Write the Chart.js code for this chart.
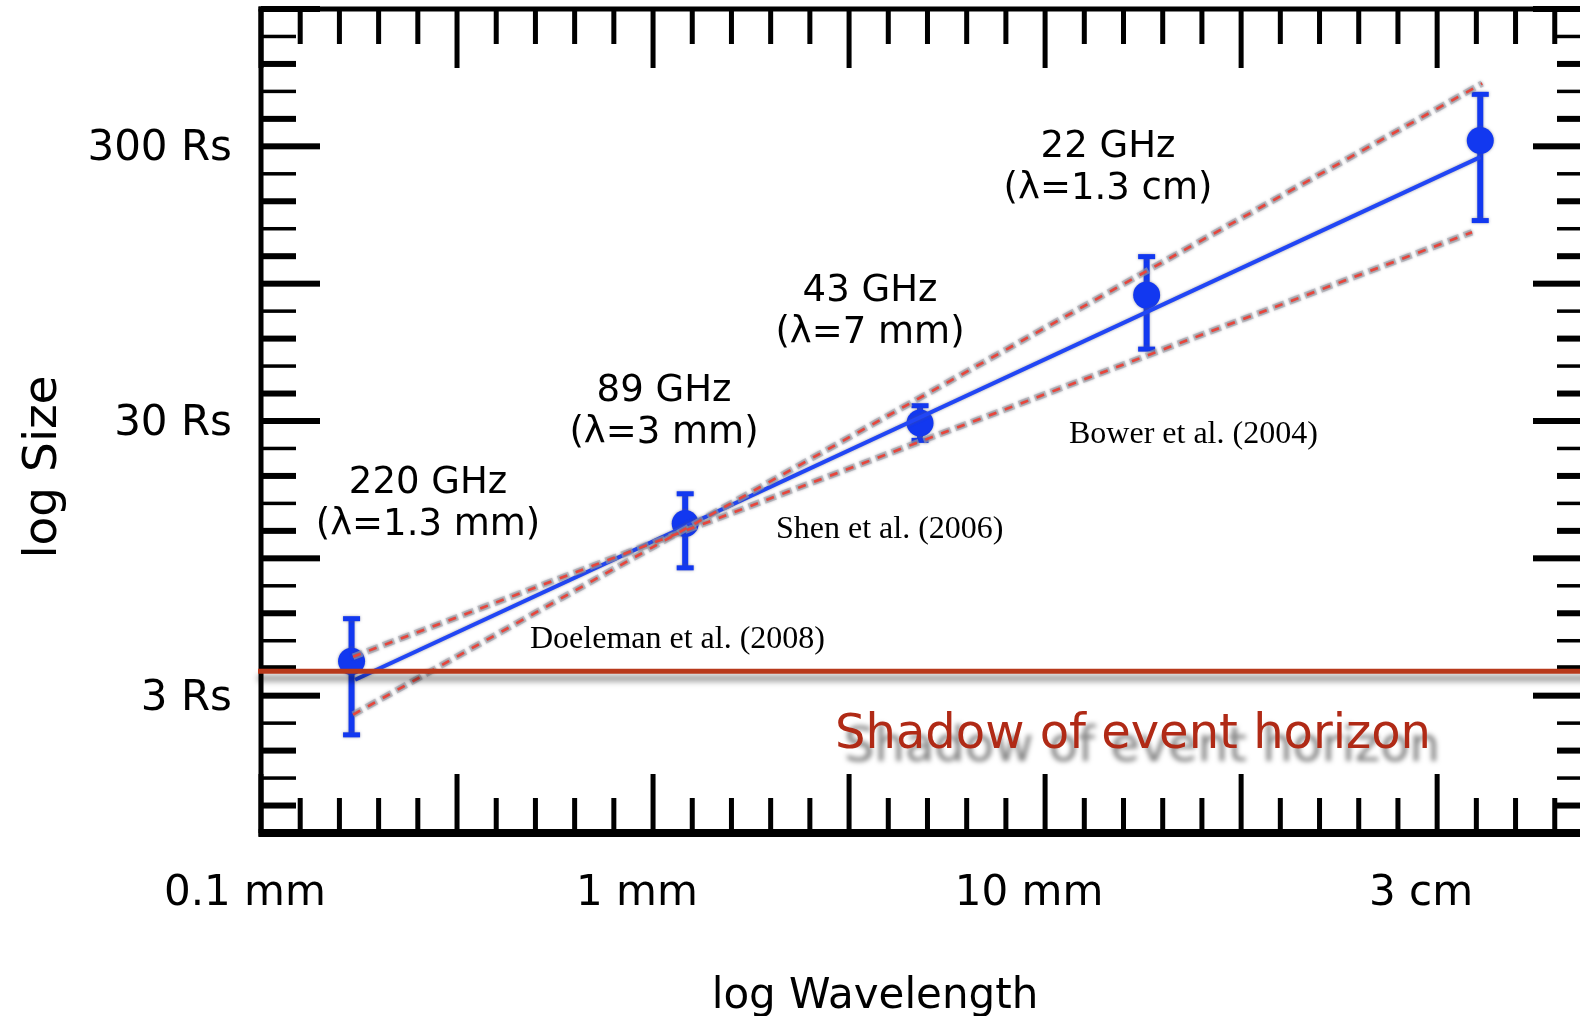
<!DOCTYPE html>
<html>
<head>
<meta charset="utf-8">
<title>log Size vs log Wavelength</title>
<script src="https://cdn.jsdelivr.net/npm/chart.js@4.4.1/dist/chart.umd.min.js"></script>
<style>
    html, body { margin: 0; padding: 0; background: #fff; overflow: hidden; }
    canvas { display: block; }
</style>
</head>
<body>
<canvas id="sizeChart" width="1600" height="1016"></canvas>
<script>
// Bandas observadas y referencias
const bandNames = ['220 GHz', '89 GHz', '43 GHz', '22 GHz'];
const bandLambda = ['(λ=1.3 mm)', '(λ=3 mm)', '(λ=7 mm)', '(λ=1.3 cm)'];
const references = ['Doeleman et al. (2008)', 'Shen et al. (2006)', 'Bower et al. (2004)'];

// x = log10(λ / 1 mm), y = tamaño en Rs
const logWave = [-0.728, 0.123, 0.722, 1.300, 2.151];
const sizeRs = [4.0, 12.7, 29.5, 86.2, 315];
const sizeLow = [2.16, 8.76, 25.5, 54.8, 161];
const sizeHigh = [5.72, 16.3, 34.1, 119, 464];

// Ajuste y sus dos límites
const fitWave = [-0.719, 2.151];
const fitSize = [3.43, 274];
const steepWave = [-0.724, 2.156];
const steepSize = [2.56, 508];
const flatWave = [-0.724, 2.130];
const flatSize = [4.16, 146];

// Sombra del horizonte de eventos
const horizonSize = 3.68;

// Etiquetas de los ejes
const xTickValues = [-1, 0, 1, 2];
const xTickLabels = ['0.1 mm', '1 mm', '10 mm', '3 cm'];
const yTickValues = [3, 30, 300];

const xMin = -0.959, xMax = 2.436;
const yMin = 0.9487, yMax = 948.7;

const SANS = "'DejaVu Sans', Verdana, sans-serif";
const SERIF = "'Liberation Serif', 'Times New Roman', serif";
const BLUE = '#1238f0';
const DASH_RED = '#e8463c';
const DASH_HALO = 'rgba(165, 165, 170, 0.6)';

const toPoints = (xs, ys) => xs.map((v, i) => ({ x: v, y: ys[i] }));

// Posiciones de los textos (centro x, línea base)
const bandLabelPos = [[428, 493], [664, 401], [870, 301], [1108, 157]];
const refPos = [[530, 648], [776, 538], [1069, 443]];

// línea discontinua con su halo gris
const dashedLine = (xs, ys, halo) => ({
    data: toPoints(xs, ys),
    showLine: true,
    borderColor: halo ? DASH_HALO : DASH_RED,
    borderWidth: halo ? 6.5 : 2.6,
    borderDash: halo ? [12, 5] : [8, 9],
    borderDashOffset: halo ? 2 : 0,
    pointRadius: 0,
    order: halo ? 0.5 : 0
});

// Marco con marcas hacia dentro y barras de error
const framePlugin = {
    id: 'frame',
    beforeDatasetsDraw(chart) {
        const { ctx, chartArea: a, scales: { x, y } } = chart;
        ctx.save();
        ctx.fillStyle = '#000';
        for (let k = 0; k <= 40; k++) {
            const px = x.getPixelForValue(xMin + k * 0.1);
            if (px > a.right + 2) break;
            const len = k % 5 === 0 ? 59 : 35;
            ctx.fillRect(px - 2.5, a.top, 5, len);
            ctx.fillRect(px - 2.5, a.bottom - len, 5, len);
        }
        for (let k = 0; k <= 30; k++) {
            const py = y.getPixelForValue(Math.pow(10, Math.log10(yMin) + k * 0.1));
            const m = k % 5;
            const len = m === 0 ? 59 : 35;
            const w = (m === 2 || m === 4) ? 3.5 : 6;
            ctx.fillRect(a.left, py - w / 2, len, w);
            ctx.fillRect(a.right - len, py - w / 2, len, w);
        }
        ctx.fillRect(a.left - 2.5, a.top - 2.5, 5, a.bottom - a.top + 6);
        ctx.fillRect(a.right - 2.5, a.top - 2.5, 5, a.bottom - a.top + 6);
        ctx.fillRect(a.left - 2.5, a.top - 2.5, a.right - a.left + 5, 5);
        ctx.fillRect(a.left - 2.5, a.bottom - 4, a.right - a.left + 5, 8);

        // barras de error
        ctx.shadowColor = 'rgba(90, 90, 120, 0.55)';
        ctx.shadowBlur = 3;
        ctx.fillStyle = BLUE;
        logWave.forEach((w, i) => {
            const px = x.getPixelForValue(w);
            const top = y.getPixelForValue(sizeHigh[i]);
            const bot = y.getPixelForValue(sizeLow[i]);
            ctx.fillRect(px - 3, top, 6, bot - top);
            ctx.fillRect(px - 8.5, top - 2.5, 17, 5);
            ctx.fillRect(px - 8.5, bot - 2.5, 17, 5);
        });
        ctx.restore();

        // halo gris de las líneas y puntos
        ctx.save();
        ctx.shadowColor = 'rgba(90, 90, 110, 0.6)';
        ctx.shadowBlur = 3;
    },
    afterDatasetsDraw(chart) {
        const { ctx, chartArea: a, scales: { y } } = chart;
        ctx.restore();

        // línea de la sombra del horizonte
        const hy = y.getPixelForValue(horizonSize);
        ctx.save();
        ctx.shadowColor = 'rgba(0, 0, 0, 0.5)';
        ctx.shadowBlur = 6;
        ctx.shadowOffsetY = 7;
        ctx.strokeStyle = '#b8391b';
        ctx.lineWidth = 5;
        ctx.beginPath();
        ctx.moveTo(a.left - 3, hy);
        ctx.lineTo(chart.width, hy);
        ctx.stroke();
        ctx.restore();

        ctx.save();
        ctx.shadowColor = 'rgba(0, 0, 0, 0.5)';
        ctx.shadowBlur = 5;
        ctx.shadowOffsetX = 9;
        ctx.shadowOffsetY = 13;
        ctx.fillStyle = '#b02a16';
        ctx.font = `48px ${SANS}`;
        ctx.textAlign = 'left';
        ctx.textBaseline = 'alphabetic';
        ctx.fillText('Shadow of event horizon', 835, 748);
        ctx.restore();
    },
    afterDraw(chart) {
        const { ctx } = chart;
        ctx.save();
        ctx.fillStyle = '#000';
        ctx.textBaseline = 'alphabetic';

        ctx.font = `37px ${SANS}`;
        ctx.textAlign = 'center';
        bandNames.forEach((name, i) => {
            const [cx, by] = bandLabelPos[i];
            ctx.fillText(name, cx, by);
            ctx.fillText(bandLambda[i], cx, by + 42);
        });

        ctx.font = `32px ${SERIF}`;
        ctx.textAlign = 'left';
        references.forEach((ref, i) => {
            ctx.fillText(ref, refPos[i][0], refPos[i][1]);
        });

        // títulos de los ejes
        ctx.font = `42px ${SANS}`;
        ctx.textAlign = 'center';
        ctx.fillText('log Wavelength', 875, 1008);
        ctx.font = `47px ${SANS}`;
        ctx.translate(56, 467);
        ctx.rotate(-Math.PI / 2);
        ctx.fillText('log Size', 0, 0);
        ctx.restore();
    }
};

const ctx = document.getElementById('sizeChart').getContext('2d');
new Chart(ctx, {
    type: 'scatter',
    data: {
        datasets: [
            dashedLine(steepWave, steepSize, false),
            dashedLine(flatWave, flatSize, false),
            dashedLine(steepWave, steepSize, true),
            dashedLine(flatWave, flatSize, true),
            {
                label: 'ajuste',
                data: toPoints(fitWave, fitSize),
                showLine: true,
                borderColor: '#2146f5',
                borderWidth: 4,
                pointRadius: 0,
                order: 1
            },
            {
                label: 'medidas',
                data: toPoints(logWave, sizeRs),
                backgroundColor: BLUE,
                borderWidth: 0,
                pointRadius: 13.5,
                order: 2
            }
        ]
    },
    options: {
        responsive: false,
        animation: false,
        layout: { autoPadding: false, padding: { top: 9, right: 8, left: 0, bottom: 0 } },
        plugins: {
            legend: { display: false },
            tooltip: { enabled: false }
        },
        scales: {
            x: {
                type: 'linear',
                min: xMin,
                max: xMax,
                grid: { display: false, drawTicks: false, tickLength: 0 },
                border: { display: false },
                ticks: {
                    autoSkip: false,
                    maxRotation: 0,
                    minRotation: 0,
                    padding: 36,
                    color: '#000',
                    font: { family: SANS, size: 42 },
                    callback: (value, index) => xTickLabels[index]
                },
                afterBuildTicks: (scale) => {
                    scale.ticks = xTickValues.map(v => ({ value: v }));
                },
                afterFit: (scale) => {
                    scale.height = 183;
                    scale.paddingLeft = 0;
                    scale.paddingRight = 0;
                }
            },
            y: {
                type: 'logarithmic',
                min: yMin,
                max: yMax,
                grid: { display: false, drawTicks: false, tickLength: 0 },
                border: { display: false },
                ticks: {
                    autoSkip: false,
                    padding: 29,
                    labelOffset: 3,
                    color: '#000',
                    font: { family: SANS, size: 42 },
                    callback: (value) => value + ' Rs'
                },
                afterBuildTicks: (scale) => {
                    scale.ticks = yTickValues.map(v => ({ value: v }));
                },
                afterFit: (scale) => {
                    scale.width = 261;
                    scale.paddingTop = 0;
                    scale.paddingBottom = 0;
                }
            }
        }
    },
    plugins: [framePlugin]
});
</script>
</body>
</html>
